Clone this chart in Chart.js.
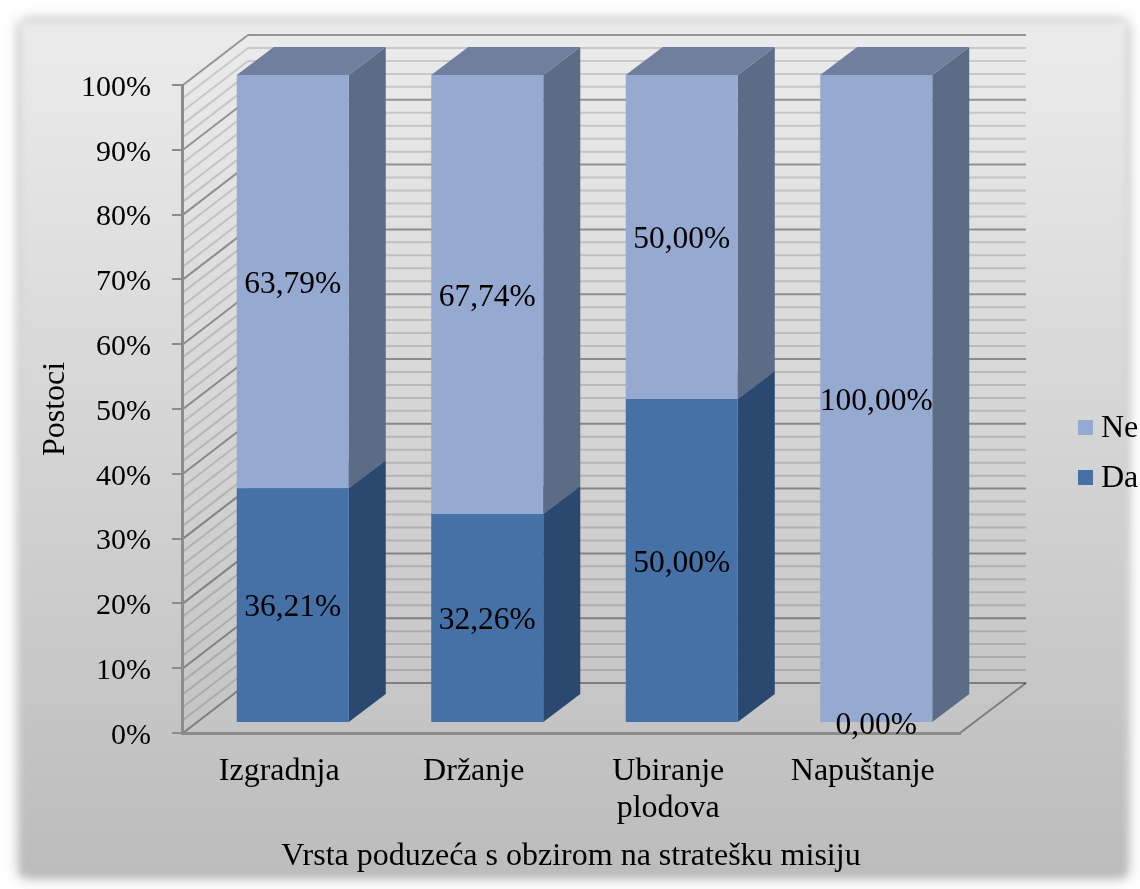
<!DOCTYPE html>
<html lang="hr">
<head>
<meta charset="UTF-8">
<title>Vrsta poduzeća s obzirom na stratešku misiju</title>
<script src="https://cdn.jsdelivr.net/npm/chart.js@4"></script>
<style>
    html, body { margin: 0; padding: 0; background: #fff; overflow: hidden; }
    .frame {
        position: absolute; left: 21px; top: 22px; width: 1105px; height: 854px;
        background: linear-gradient(#ececec, #bcbcbc);
        box-shadow: 0 0 12px rgba(0, 0, 0, .45);
        filter: blur(3px);
    }
    canvas { position: absolute; left: 0; top: 0; }
</style>
</head>
<body>
<div class="frame"></div>
<canvas id="chart" width="1140" height="889"></canvas>
<script>
const categories = ['Izgradnja', 'Držanje', ['Ubiranje', 'plodova'], 'Napuštanje'];
const daValues = [36.21, 32.26, 50, 0];
const neValues = [63.79, 67.74, 50, 100];
const yTicks = { min: 0, max: 100, major: 10, minor: 2 };

const FONT = 'Liberation Serif';
const wallDepth = { x: 66, y: -50 };
const barShift = { x: 13.5, y: -10 };
const barDepth = { x: 37, y: -28 };
const faces = [
    { front: '#4571a6', side: '#2b4870', top: '#3a5f8c' },
    { front: '#95a9d1', side: '#5c6c86', top: '#6f7f9d' }
];

function line(ctx, x1, y1, x2, y2) {
    ctx.beginPath();
    ctx.moveTo(x1, y1);
    ctx.lineTo(x2, y2);
    ctx.stroke();
}

function poly(ctx, pts, color) {
    ctx.fillStyle = color;
    ctx.beginPath();
    pts.forEach((p, i) => i ? ctx.lineTo(p[0], p[1]) : ctx.moveTo(p[0], p[1]));
    ctx.closePath();
    ctx.fill();
}

// back wall, left wall and floor of the 3D box
const wallPlugin = {
    id: 'walls',
    beforeDraw(chart) {
        const { ctx, chartArea: a, scales: { y } } = chart;
        ctx.save();
        ctx.lineWidth = 2;
        for (let v = yTicks.min; v <= yTicks.max; v += yTicks.minor) {
            const py = y.getPixelForValue(v);
            const isMajor = v % yTicks.major === 0;
            ctx.strokeStyle = isMajor ? 'rgba(0,0,0,.36)' : 'rgba(0,0,0,.14)';
            line(ctx, a.left + 1, py, a.left + wallDepth.x, py + wallDepth.y);
            line(ctx, a.left + wallDepth.x, py + wallDepth.y, a.right + wallDepth.x, py + wallDepth.y);
        }
        ctx.strokeStyle = 'rgba(0,0,0,.36)';
        line(ctx, a.right, a.bottom, a.right + wallDepth.x, a.bottom + wallDepth.y);
        ctx.restore();
    }
};

// side and top faces behind the bars, bars shifted off the front plane
const boxPlugin = {
    id: 'boxes',
    beforeDatasetsDraw(chart) {
        const ctx = chart.ctx;
        ctx.save();
        ctx.translate(barShift.x, barShift.y);
        const dx = barDepth.x, dy = barDepth.y;
        categories.forEach((c, j) => {
            chart.data.datasets.forEach((ds, i) => {
                const bar = chart.getDatasetMeta(i).data[j];
                if (ds.data[j] === 0) return;
                const l = bar.x - bar.width / 2, r = bar.x + bar.width / 2;
                poly(ctx, [[r, bar.base], [r + dx, bar.base + dy], [r + dx, bar.y + dy], [r, bar.y]], faces[i].side);
                poly(ctx, [[l, bar.y], [l + dx, bar.y + dy], [r + dx, bar.y + dy], [r, bar.y]], faces[i].top);
            });
        });
    },
    afterDatasetsDraw(chart) {
        const ctx = chart.ctx;
        ctx.restore();
        ctx.save();
        ctx.font = '31.5px "' + FONT + '"';
        ctx.fillStyle = '#000';
        ctx.textAlign = 'center';
        ctx.textBaseline = 'middle';
        chart.data.datasets.forEach((ds, i) => {
            chart.getDatasetMeta(i).data.forEach((bar, j) => {
                const label = ds.data[j].toFixed(2).replace('.', ',') + '%';
                ctx.fillText(label, bar.x + barShift.x, (bar.y + bar.base) / 2 + barShift.y + 3);
            });
        });
        ctx.restore();
    }
};

const legendPlugin = {
    id: 'sideLegend',
    afterDraw(chart) {
        const ctx = chart.ctx;
        ctx.save();
        ctx.font = '32px "' + FONT + '"';
        ctx.textBaseline = 'middle';
        [1, 0].forEach((i, row) => {
            const ds = chart.data.datasets[i];
            const cy = 427 + row * 50;
            ctx.fillStyle = ds.backgroundColor;
            ctx.fillRect(1078, cy - 7, 15, 15);
            ctx.fillStyle = '#000';
            ctx.fillText(ds.label, 1101, cy + 2);
        });
        ctx.restore();
    }
};

new Chart(document.getElementById('chart'), {
    type: 'bar',
    data: {
        labels: categories,
        datasets: [
            { label: 'Da', data: daValues, backgroundColor: faces[0].front },
            { label: 'Ne', data: neValues, backgroundColor: faces[1].front }
        ]
    },
    options: {
        responsive: false,
        animation: false,
        devicePixelRatio: 1,
        layout: { padding: { top: 85, right: 180, left: 0, bottom: 0 } },
        datasets: { bar: { barPercentage: 1, categoryPercentage: 0.576, clip: false } },
        plugins: { legend: { display: false }, tooltip: { enabled: false } },
        scales: {
            x: {
                stacked: true,
                afterFit(s) { s.height = 156; },
                grid: { display: false, drawTicks: false },
                border: { display: true, color: '#8c8c8c', width: 3 },
                ticks: { color: '#000', font: { family: FONT, size: 32, lineHeight: 1.16 }, padding: 20, maxRotation: 0, autoSkip: false },
                title: { display: true, text: 'Vrsta poduzeća s obzirom na stratešku misiju', color: '#000', font: { family: FONT, size: 32 }, padding: { top: 0, bottom: 13 } }
            },
            y: {
                stacked: true,
                min: yTicks.min,
                max: yTicks.max,
                afterFit(s) { s.width = 182; },
                grid: { drawOnChartArea: false, tickLength: 10, color: '#8c8c8c', lineWidth: 2 },
                border: { display: true, color: '#8c8c8c', width: 3 },
                ticks: { stepSize: yTicks.major, color: '#000', font: { family: FONT, size: 30 }, padding: 21, labelOffset: 3, callback: v => v + '%' },
                title: { display: true, text: 'Postoci', color: '#000', font: { family: FONT, size: 32 }, padding: { top: 36, bottom: 0 } }
            }
        }
    },
    plugins: [wallPlugin, boxPlugin, legendPlugin]
});
</script>
</body>
</html>
